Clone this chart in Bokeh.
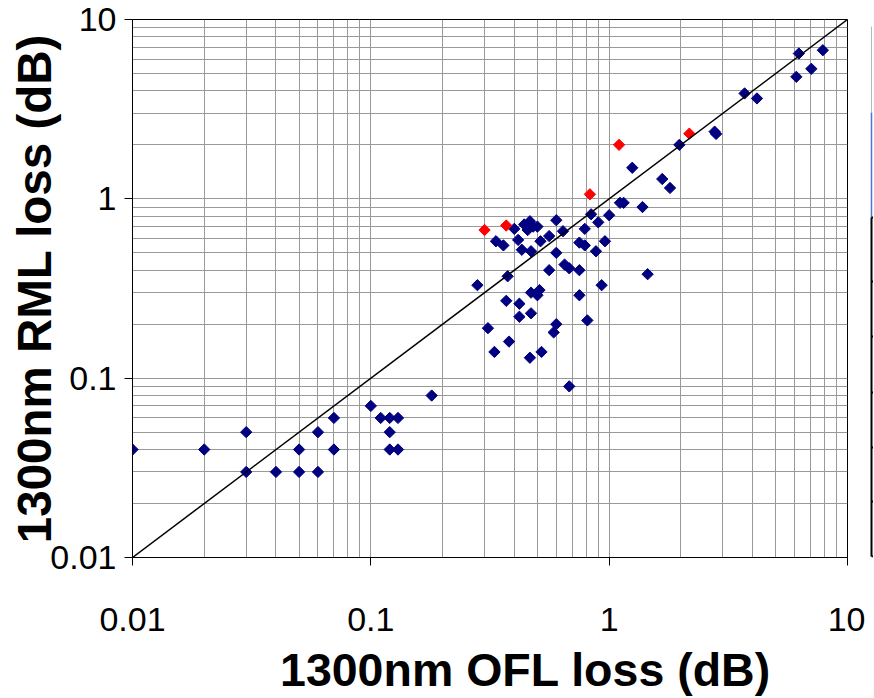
import math
from bokeh.plotting import figure
from bokeh.models import FixedTicker, Range1d
from bokeh.layouts import row, column
from bokeh.core.properties import value
from bokeh.embed import file_html
from bokeh.resources import INLINE

# ---- data ----
blue_ofl = [0.01, 0.02, 0.03, 0.03, 0.04, 0.05, 0.05, 0.06, 0.06, 0.07, 0.07, 0.10,
            0.11, 0.12, 0.13, 0.12, 0.12, 0.13, 0.18,
            0.28, 0.31, 0.33, 0.335, 0.36, 0.375, 0.37, 0.38, 0.40, 0.415, 0.42, 0.42,
            0.43, 0.44, 0.465, 0.455, 0.48, 0.50, 0.47, 0.47, 0.47, 0.465, 0.51, 0.50,
            0.515, 0.52, 0.56, 0.56, 0.60, 0.60, 0.60, 0.585, 0.64, 0.65, 0.68, 0.68,
            0.75, 0.79, 0.75, 0.75, 0.79, 0.81, 0.84, 0.88, 0.90, 0.93, 0.96, 1.00,
            1.11, 1.15, 1.38, 1.45, 1.25, 1.67, 1.80, 1.97, 2.77, 2.81, 3.70, 4.17,
            6.10, 6.25, 7.05, 7.88]
blue_rml = [0.04, 0.04, 0.05, 0.03, 0.03, 0.04, 0.03, 0.05, 0.03, 0.06, 0.04, 0.07,
            0.06, 0.06, 0.06, 0.05, 0.04, 0.04, 0.08,
            0.33, 0.19, 0.14, 0.58, 0.55, 0.37, 0.27, 0.16, 0.68, 0.59, 0.26, 0.22,
            0.52, 0.72, 0.75, 0.67, 0.70, 0.70, 0.51, 0.30, 0.23, 0.13, 0.31, 0.29,
            0.58, 0.14, 0.62, 0.40, 0.76, 0.50, 0.20, 0.18, 0.66, 0.43, 0.41, 0.09,
            0.57, 0.55, 0.40, 0.29, 0.68, 0.21, 0.82, 0.51, 0.74, 0.33, 0.58, 0.81,
            0.95, 0.95, 0.90, 0.38, 1.49, 1.29, 1.15, 2.00, 2.37, 2.30, 3.87, 3.63,
            4.79, 6.46, 5.31, 6.74]
red_ofl = [0.30, 0.37, 0.83, 1.10, 2.17]
red_rml = [0.67, 0.71, 1.06, 2.00, 2.31]
ref_line = [0.01, 10]
tick_values = [0.01, 0.1, 1, 10]
tick_labels = ["0.01", "0.1", "1", "10"]
minor_values = [m * 10.0 ** e for e in (-2, -1, 0) for m in range(2, 10)]
x_title = "1300nm OFL loss (dB)"
y_title = "1300nm RML loss (dB)"

FONT = "Liberation Sans"

p = figure(frame_width=715, frame_height=538, x_axis_type="log", y_axis_type="log",
           x_range=Range1d(0.01, 10), y_range=Range1d(0.01, 10),
           output_backend="svg", toolbar_location=None,
           min_border_left=132, min_border_right=18,
           min_border_top=19, min_border_bottom=92)
p.background_fill_color = "white"
p.border_fill_color = "white"
p.outline_line_color = "black"
p.outline_line_width = 1
p.outline_line_alpha = 1

ticker = FixedTicker(ticks=tick_values, minor_ticks=minor_values)
p.xaxis.ticker = ticker
p.yaxis.ticker = ticker
p.xgrid.ticker = ticker
p.ygrid.ticker = ticker
p.grid.grid_line_color = "#999999"
p.grid.grid_line_width = 1
p.grid.minor_grid_line_color = "#999999"
p.grid.minor_grid_line_width = 1

overrides = dict(zip(tick_values, tick_labels))
for ax in (p.xaxis, p.yaxis):
    ax.major_label_overrides = overrides
    ax.axis_line_color = "black"
    ax.axis_line_width = 1
    ax.major_tick_line_color = "black"
    ax.major_tick_out = 8
    ax.major_tick_in = 0
    ax.minor_tick_out = 0
    ax.minor_tick_in = 0
    ax.major_label_text_font = FONT
    ax.major_label_text_font_size = "34px"
    ax.major_label_text_color = "black"
p.xaxis.major_label_standoff = 42
p.yaxis.major_label_standoff = 8

p.yaxis.axis_label = y_title
p.yaxis.axis_label_text_font = FONT
p.yaxis.axis_label_text_font_size = "47.5px"
p.yaxis.axis_label_text_font_style = "bold"
p.yaxis.axis_label_text_color = "black"
p.yaxis.axis_label_standoff = -14

p.scatter(blue_ofl, blue_rml, marker="square", size=8, angle=math.pi / 4,
          fill_color="#000080", line_color="#000080")
p.scatter(red_ofl, red_rml, marker="square", size=8, angle=math.pi / 4,
          fill_color="#ff0000", line_color="#ff0000")
p.line(ref_line, ref_line, line_color="black", line_width=1.5)

# clipped edge of the neighbouring legend panel at the right border
s = figure(width=8, height=649, x_range=Range1d(0, 8), y_range=Range1d(558, 20),
           output_backend="svg", toolbar_location=None, min_border=0, title=None,
           x_axis_location=None, y_axis_location=None)
s.grid.visible = False
s.outline_line_color = None
s.background_fill_color = "white"
s.border_fill_color = "white"
s.segment(x0=[6, 6, 6], y0=[27, 113, 218], x1=[6, 6, 6], y1=[113, 218, 557],
          line_color=["#b8b8b8", "#5070d8", "black"], line_width=[1, 1.5, 2])
edge_ticks = [218, 282, 337, 393, 448, 502, 557]
s.segment(x0=[6] * len(edge_ticks), y0=edge_ticks, x1=[8] * len(edge_ticks), y1=edge_ticks,
          line_color="black", line_width=2)

# x-axis title strip: text anchored to the strip's top edge
t = figure(width=865, height=48, x_range=Range1d(133, 848), y_range=Range1d(1, 0),
           output_backend="svg", toolbar_location=None, title=None,
           min_border_left=132, min_border_right=18, min_border_top=0, min_border_bottom=0,
           x_axis_location=None, y_axis_location=None)
t.grid.visible = False
t.outline_line_color = None
t.background_fill_color = "white"
t.border_fill_color = "white"
t.text(x=[526], y=[0], text=[x_title], text_font=value(FONT), y_offset=20,
       text_font_size="46.5px", text_font_style="bold", text_color="black",
       text_align="center", text_baseline="alphabetic")

layout = column(row(p, s), t)
open("out.html", "w").write(file_html(layout, INLINE))
